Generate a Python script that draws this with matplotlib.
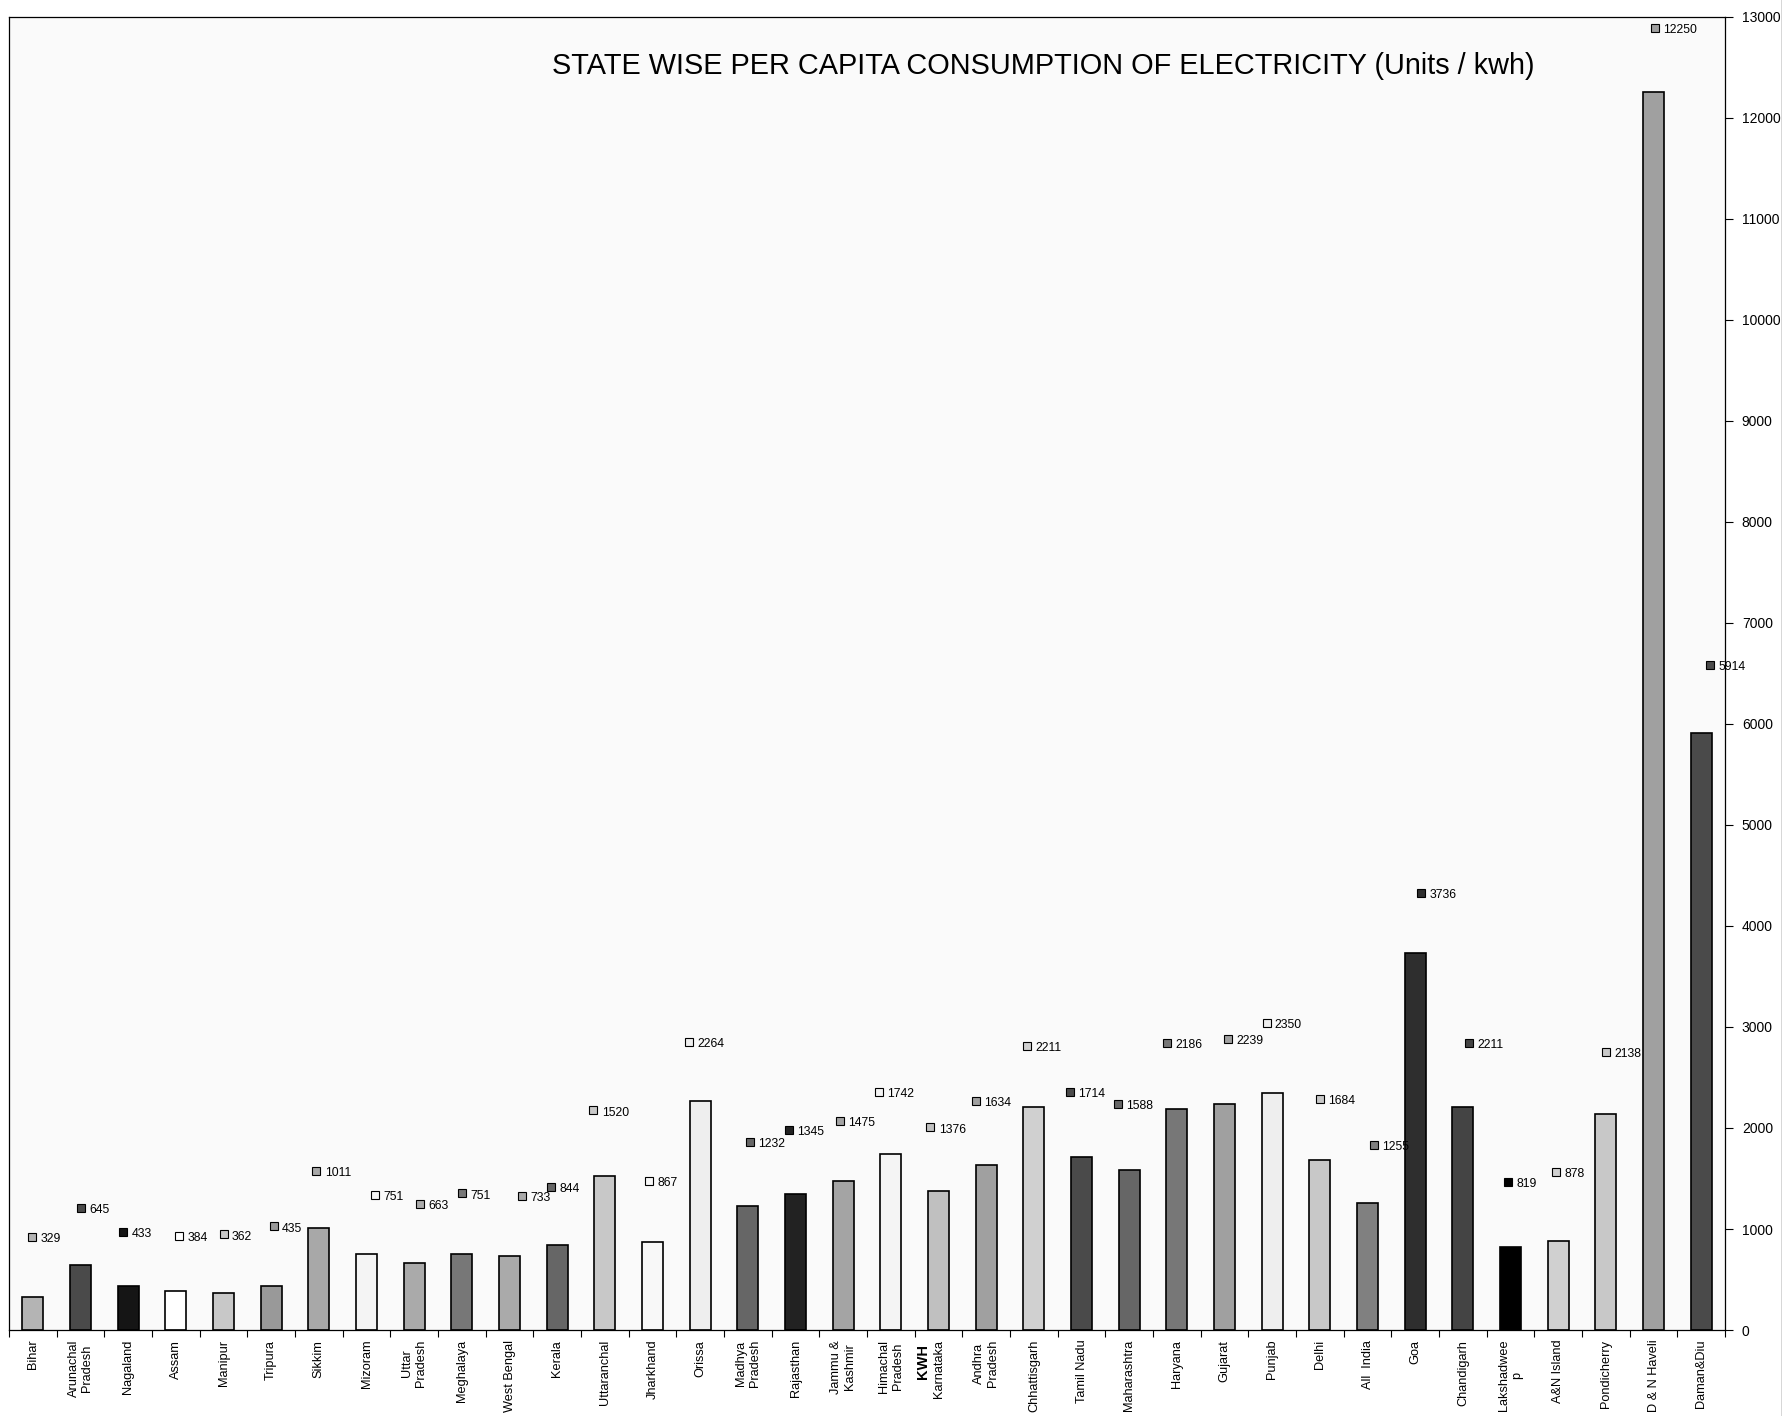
import matplotlib
matplotlib.use('Agg')
import matplotlib.pyplot as plt
import matplotlib.transforms as mtransforms

plt.rcParams['font.family'] = ['Liberation Sans', 'DejaVu Sans']

# data
states = ['Bihar', 'Arunachal\nPradesh', 'Nagaland', 'Assam', 'Manipur', 'Tripura',
          'Sikkim', 'Mizoram', 'Uttar\nPradesh', 'Meghalaya', 'West Bengal', 'Kerala',
          'Uttaranchal', 'Jharkhand', 'Orissa', 'Madhya\nPradesh', 'Rajasthan',
          'Jammu &\nKashmir', 'Himachal\nPradesh', 'Karnataka', 'Andhra\nPradesh',
          'Chhattisgarh', 'Tamil Nadu', 'Maharashtra', 'Haryana', 'Gujarat', 'Punjab',
          'Delhi', 'All  India', 'Goa', 'Chandigarh', 'Lakshadwee\np', 'A&N Island',
          'Pondicherry', 'D & N Haveli', 'Daman&Diu']
kwh = [329, 645, 433, 384, 362, 435, 1011, 751, 663, 751, 733, 844, 1520, 867, 2264,
       1232, 1345, 1475, 1742, 1376, 1634, 2211, 1714, 1588, 2186, 2239, 2350, 1684,
       1255, 3736, 2211, 819, 878, 2138, 12250, 5914]
shades = ['#b4b4b4', '#4a4a4a', '#151515', '#ffffff', '#c8c8c8', '#999999',
          '#a8a8a8', '#f4f4f4', '#aaaaaa', '#777777', '#aaaaaa', '#666666',
          '#c8c8c8', '#f8f8f8', '#eeeeee', '#666666', '#222222', '#a4a4a4',
          '#f4f4f4', '#c0c0c0', '#a0a0a0', '#d0d0d0', '#4a4a4a', '#666666',
          '#777777', '#a0a0a0', '#eeeeee', '#c8c8c8', '#808080', '#2e2e2e',
          '#444444', '#000000', '#d0d0d0', '#c8c8c8', '#a0a0a0', '#4a4a4a']
# where the value labels were dragged to (height in kwh, sideways shift in bars)
label_y = [924, 1206, 969, 935, 946, 1025, 1577, 1341, 1250, 1352, 1329, 1419,
           2174, 1476, 2850, 1859, 1983, 2073, 2354, 2005, 2264, 2816, 2354, 2242,
           2839, 2884, 3042, 2287, 1836, 4326, 2839, 1464, 1566, 2749, 12888, 6579]
label_dx = [-0.02, 0.02, -0.1, 0.07, 0, 0.05, -0.05, 0.17, 0.12, 0, 0.26, -0.12,
            -0.24, -0.07, -0.24, 0.05, -0.14, -0.07, -0.26, -0.17, -0.21, -0.14,
            -0.24, -0.24, -0.21, 0.07, -0.12, 0, 0.14, 0.12, 0.12, -0.05, -0.05,
            0, 0.02, 0.19]

fig = plt.figure(figsize=(17.83, 14.16), dpi=100, facecolor='white')
ax = fig.add_axes([0.00505, 0.0607, 0.9625, 0.9275])
ax.set_facecolor('#fafafa')

x = list(range(len(states)))
ax.bar(x, kwh, width=0.44, color=shades, edgecolor='black', linewidth=1.2, zorder=2)

for i in x:
    xm = i + label_dx[i]
    ax.plot(xm, label_y[i], marker='s', markersize=5.5, markerfacecolor=shades[i],
            markeredgecolor='black', markeredgewidth=0.8, linestyle='none', zorder=3)
    ax.annotate(str(kwh[i]), (xm, label_y[i]), xytext=(6, -1.5), textcoords='offset points',
                ha='left', va='center', fontsize=8.8, zorder=3)

ax.set_xlim(-0.5, len(states) - 0.5)
ax.set_ylim(0, 13000)

# category axis: tick marks between bars, names under bars
ax.set_xticks([i - 0.5 for i in range(len(states) + 1)])
ax.set_xticklabels([])
ax.set_xticks(x, minor=True)
ax.set_xticklabels(states, minor=True, rotation=90, fontsize=9.2, ha='center', va='top',
                   multialignment='center')
ax.tick_params(axis='x', which='major', direction='out', length=5, width=0.8)
ax.tick_params(axis='x', which='minor', length=0, pad=7)

ax.yaxis.tick_right()
ax.set_yticks(range(0, 13001, 1000))
ax.tick_params(axis='y', direction='out', length=6, width=0.8, labelsize=10, pad=6)

for s in ['left', 'right', 'top', 'bottom']:
    ax.spines[s].set_color('black')
    ax.spines[s].set_linewidth(0.9)

trans = mtransforms.blended_transform_factory(ax.transData, ax.transAxes)
ax.text(19 - 0.33, -0.011, 'KWH', transform=trans, rotation=90, ha='center', va='top',
        fontsize=10.5, fontweight='bold')

ax.text(0.6026, 0.9625, 'STATE WISE PER CAPITA CONSUMPTION OF ELECTRICITY (Units / kwh)',
        transform=ax.transAxes, ha='center', va='center', fontsize=20.8)

# right edge of the original frame
fig.add_artist(plt.Line2D([0.9992, 0.9992], [0, 1], transform=fig.transFigure,
                          color='#333333', linewidth=1))

fig.savefig('out.png', dpi=100)
